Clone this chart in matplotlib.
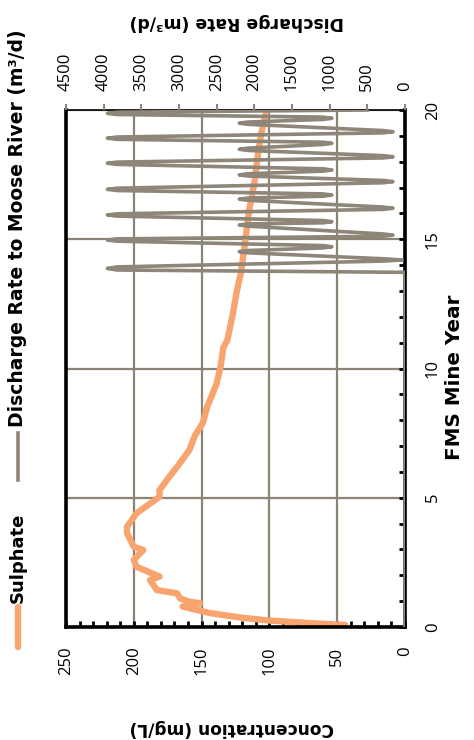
import matplotlib
matplotlib.use("Agg")
import matplotlib.pyplot as plt
import matplotlib.ticker as mticker
from matplotlib.lines import Line2D

plt.rcParams['font.family'] = ['Open Sans', 'DejaVu Sans']
label_font = ['DejaVu Sans']

# sulphate concentration (mg/L) vs FMS mine year
sulphate_year = [0.08, 0.15, 0.25, 0.35, 0.54, 0.79, 0.92, 0.98, 1.11, 1.3, 1.43,
                 1.82, 1.95, 2.33, 2.6, 2.98, 3.1, 3.63, 3.88, 4.4, 5.04, 5.3,
                 5.8, 6.2, 6.85, 7.4, 7.9, 8.5, 9.4, 10.07, 10.8, 11.1, 12.1,
                 13.0, 13.7, 14.85, 16.1, 17.2, 18.45, 19.1, 20]
sulphate_conc = [44, 70, 100, 119, 144, 164, 151, 159, 166, 168, 183,
                 188, 181, 198, 200, 193, 200, 205, 205, 198, 181, 181,
                 174, 168, 159, 155, 149, 146, 139, 136, 134, 131, 127,
                 124, 121, 118, 115, 111, 108, 106, 102]

# discharge to Moose River (m3/d), hairpin peaks and troughs
discharge_year = [0, 13.72, 13.81, 13.87, 13.93,
                  14.155, 14.2, 14.245, 14.475, 14.52, 14.565, 14.665, 14.71, 14.755,
                  14.925, 14.97, 15.015, 15.115, 15.16, 15.205, 15.505, 15.55, 15.595,
                  15.635, 15.68, 15.725, 15.895, 15.94, 15.985, 16.155, 16.2, 16.245,
                  16.505, 16.55, 16.595, 16.665, 16.71, 16.755, 16.885, 16.93, 16.975,
                  17.185, 17.23, 17.275, 17.445, 17.49, 17.535, 17.635, 17.68, 17.725,
                  17.895, 17.94, 17.985, 18.145, 18.19, 18.235, 18.435, 18.48, 18.525,
                  18.665, 18.71, 18.755, 18.865, 18.91, 18.955, 19.115, 19.16, 19.205,
                  19.445, 19.49, 19.535, 19.635, 19.68, 19.725, 19.825, 19.87, 19.915,
                  20]
discharge_rate = [0, 0, 3820, 3950, 3820,
                  290, 40, 290, 2080, 2200, 2080, 1090, 970, 1090,
                  3820, 3950, 3820, 290, 160, 290, 2080, 2200, 2080,
                  1090, 970, 1090, 3820, 3950, 3820, 290, 160, 290,
                  2080, 2200, 2080, 1090, 970, 1090, 3820, 3950, 3820,
                  290, 160, 290, 2080, 2200, 2080, 1090, 970, 1090,
                  3820, 3950, 3820, 290, 160, 290, 2080, 2200, 2080,
                  1090, 970, 1090, 3820, 3950, 3820, 290, 160, 290,
                  2080, 2200, 2080, 1090, 970, 1090, 3820, 3950, 3820,
                  500]

conc_ticks = [0, 50, 100, 150, 200, 250]
rate_ticks = [0, 500, 1000, 1500, 2000, 2500, 3000, 3500, 4000, 4500]
year_ticks = [0, 5, 10, 15, 20]

orange = '#F7A46E'
brown_gray = '#8D8679'
grid_c = '#8B8374'

W, H = 474, 740
fig = plt.figure(figsize=(W / 100, H / 100), dpi=100)
ax = fig.add_axes([66 / W, 113 / H, 339 / W, 517 / H])

ax.set_xlim(250, 0)
ax.set_ylim(0, 20)
ax.xaxis.set_major_locator(mticker.FixedLocator(conc_ticks))
ax.xaxis.set_minor_locator(mticker.MultipleLocator(10))
ax.yaxis.set_major_locator(mticker.FixedLocator(year_ticks))
ax.yaxis.set_minor_locator(mticker.MultipleLocator(1))
ax.grid(True, which='major', color=grid_c, lw=1.6)

ax.plot(sulphate_conc, sulphate_year, color=orange, lw=4.6, solid_capstyle='round',
        solid_joinstyle='round')

ax.yaxis.tick_right()
ax.tick_params(axis='x', which='both', direction='in', length=4, width=2,
               color='black', labelsize=12, labelrotation=90, pad=14)
ax.tick_params(axis='y', which='both', direction='in', length=4, width=2,
               color='black', labelsize=12, labelrotation=90, pad=20)
for lbl in ax.get_yticklabels():
    lbl.set_va('center')
    lbl.set_ha('center')

for s in ['left', 'right', 'bottom']:
    ax.spines[s].set_color('black')
    ax.spines[s].set_linewidth(2.6)
ax.spines['top'].set_color('black')
ax.spines['top'].set_linewidth(1.2)

ax2 = ax.twiny()
ax2.set_xlim(4500, 0)
ax2.xaxis.set_major_locator(mticker.FixedLocator(rate_ticks))
ax2.plot(discharge_rate, discharge_year, color=brown_gray, lw=2.6,
         solid_joinstyle='round')
ax2.tick_params(axis='x', direction='out', length=4, width=1.5, color=brown_gray,
                labelsize=12, labelrotation=90, pad=10)
for s in ax2.spines.values():
    s.set_visible(False)

lab = dict(fontsize=12, fontweight='bold', family=label_font)
labels = []
labels.append((fig.text(232 / W, 1 - 728 / H, 'Concentration (mg/L)', rotation=180,
                        ha='center', va='center', **lab), 203))
labels.append((fig.text(237 / W, 1 - 22 / H, 'Discharge Rate (m³/d)', rotation=180,
                        ha='center', va='center', **lab), 213))
labels.append((fig.text(454 / W, 1 - 377 / H, 'FMS Mine Year', rotation=90,
                        ha='center', va='center', **lab), 165))

# legend drawn sideways on the left
fig.add_artist(Line2D([18 / W, 18 / W], [1 - 647 / H, 1 - 607 / H],
                      color=orange, lw=4.6, solid_capstyle='round'))
labels.append((fig.text(18 / W, 1 - 603 / H, 'Sulphate', rotation=90, ha='center',
                        va='bottom', **lab), 90))
fig.add_artist(Line2D([18 / W, 18 / W], [1 - 480 / H, 1 - 433 / H],
                      color=brown_gray, lw=2.6))
labels.append((fig.text(18 / W, 1 - 427 / H, 'Discharge Rate to Moose River (m³/d)',
                        rotation=90, ha='center', va='bottom', **lab), 397))

# scale the label fonts so each one spans the same length as in the source
renderer = fig.canvas.get_renderer()
for txt, target in labels:
    bb = txt.get_window_extent(renderer)
    length = max(bb.width, bb.height)
    txt.set_fontsize(txt.get_fontsize() * target / length)

fig.savefig('out.png', dpi=100)
